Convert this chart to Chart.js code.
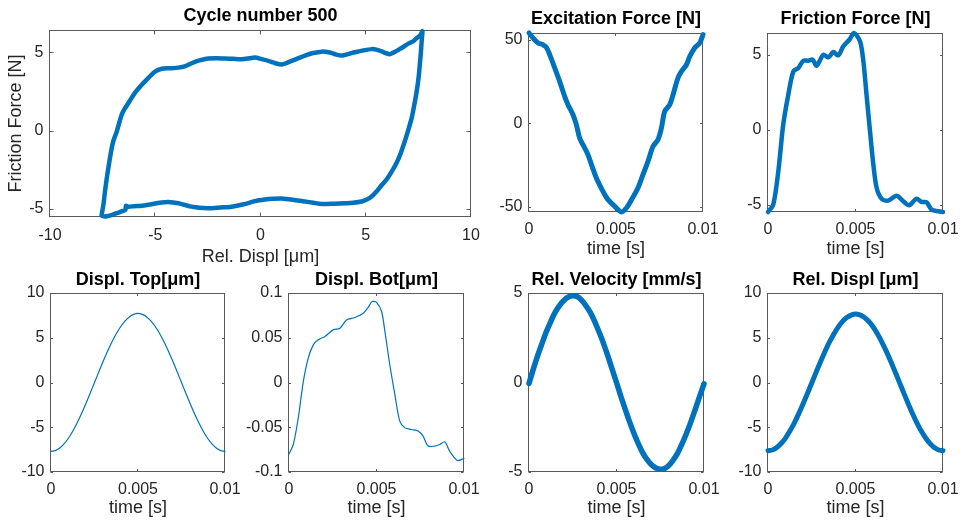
<!DOCTYPE html>
<html>
<head>
<meta charset="utf-8">
<script src="https://cdn.jsdelivr.net/npm/chart.js@4.4.0/dist/chart.umd.min.js"></script>
<style>
  html, body { margin: 0; padding: 0; background: #fff; overflow: hidden; width: 963px; height: 526px; }
  canvas { position: absolute; }
</style>
</head>
<body>
<canvas id="c1"></canvas>
<canvas id="c2"></canvas>
<canvas id="c3"></canvas>
<canvas id="c4"></canvas>
<canvas id="c5"></canvas>
<canvas id="c6"></canvas>
<canvas id="c7"></canvas>
<script>
// hysteresis loop, cycle 500 (rel. displ in um vs friction force in N)
const loopDispl = [-7.55, -7.45, -7.39, -7.31, -7.23, -7.12, -7.0, -6.83, -6.6, -6.45, -6.28, -6.0, -5.64, -5.3, -5.01,
  -4.69, -4.3, -3.9, -3.6, -3.27, -2.9, -2.48, -2.1, -1.69, -1.3, -0.89, -0.5, -0.26, 0.05, 0.37, 0.7, 1.01, 1.25,
  1.48, 1.8, 2.11, 2.5, 2.91, 3.3, 3.6, 3.86, 4.2, 4.49, 4.9, 5.28, 5.5, 5.76, 6.0, 6.15, 6.35, 6.55, 6.8, 7.02,
  7.25, 7.42, 7.6, 7.69,
  7.65, 7.62, 7.58, 7.52, 7.42, 7.3, 7.18, 6.95, 6.8, 6.63, 6.45, 6.23, 6.0, 5.76, 5.5, 5.28, 5.05, 4.81, 4.4, 4.01,
  3.5, 2.91, 2.5, 2.11, 1.6, 1.01, 0.6, 0.21, -0.26, -0.8, -1.37, -1.9, -2.48, -2.9, -3.27, -3.6, -3.9, -4.38,
  -4.7, -5.01, -5.3, -5.64, -6.0, -6.28, -6.39, -6.42, -6.6, -6.83, -7.05, -7.23, -7.4, -7.55];
const loopForce = [-5.42, -4.6, -3.9, -3.1, -2.4, -1.5, -0.7, -0.06, 1.0, 1.4, 1.75, 2.35, 2.92, 3.4, 3.77,
  3.95, 3.98, 4.02, 4.1, 4.3, 4.48, 4.6, 4.62, 4.6, 4.58, 4.56, 4.62, 4.66, 4.56, 4.45, 4.3, 4.22, 4.32,
  4.45, 4.62, 4.79, 4.95, 5.04, 4.98, 4.85, 4.79, 4.9, 5.0, 5.12, 5.2, 5.17, 5.05, 4.92, 4.88, 5.0, 5.15, 5.35, 5.55,
  5.7, 5.9, 6.1, 6.35,
  5.6, 5.0, 4.4, 3.5, 2.5, 1.6, 0.8, -0.27, -0.9, -1.55, -2.1, -2.62, -3.1, -3.47, -3.9, -4.2, -4.4, -4.52, -4.6, -4.63,
  -4.66, -4.68, -4.6, -4.52, -4.42, -4.33, -4.35, -4.4, -4.5, -4.7, -4.85, -4.9, -4.95, -4.92, -4.85, -4.74, -4.63, -4.55,
  -4.58, -4.65, -4.72, -4.79, -4.82, -4.85, -4.8, -5.06, -5.15, -5.27, -5.37, -5.44, -5.48, -5.42];

// excitation force [N]
const excTime = [0, 0.00023, 0.00052, 0.0008, 0.001, 0.00119, 0.00148, 0.00176, 0.00205, 0.00224, 0.00253, 0.00272,
  0.00291, 0.0031, 0.00339, 0.00359, 0.00387, 0.00425, 0.00454, 0.00493, 0.00531, 0.0056, 0.00589, 0.00626, 0.00655,
  0.00684, 0.00713, 0.00741, 0.00761, 0.0078, 0.00809, 0.00828, 0.00856, 0.00876, 0.00905, 0.00924, 0.00952, 0.00981, 0.01];
const excForce = [54.2, 51.2, 48.2, 47.2, 45.6, 41.2, 33.2, 25.2, 16.2, 11.2, 5.2, -0.8,
  -8.8, -12.8, -18.8, -24.8, -32.8, -40.8, -45.8, -49.8, -53.2, -50.8, -45.8, -38.8, -30.8,
  -22.8, -13.8, -9.8, -2.8, 7.2, 11.2, 17.2, 27.2, 31.2, 35.2, 40.2, 45.2, 48.2, 53.2];

// friction force [N]
const fricTime = [0, 0.0003, 0.00059, 0.00087, 0.00116, 0.00145, 0.00173, 0.00202, 0.0023, 0.00255, 0.00278, 0.00316,
  0.00345, 0.00373, 0.00402, 0.0043, 0.00465, 0.00491, 0.00526, 0.00545, 0.00563, 0.00583, 0.00602, 0.00621, 0.00649,
  0.00687, 0.00735, 0.00773, 0.00807, 0.00849, 0.00878, 0.00906, 0.00935, 0.00973, 0.01];
const fricForce = [-5.47, -4.98, -2.75, 0.36, 2.35, 3.91, 4.13, 4.62, 4.62, 4.69, 4.29, 5.02,
  4.85, 5.2, 4.98, 5.58, 6.02, 6.47, 5.91, 4.58, 2.35, -0.09, -2.31, -3.87, -4.58,
  -4.71, -4.38, -4.75, -5.02, -4.58, -4.8, -4.82, -5.31, -5.42, -5.47];

// regular time grid [s]
const gridTime = [0, 0.00025, 0.0005, 0.00075, 0.001, 0.00125, 0.0015, 0.00175, 0.002, 0.00225, 0.0025,
  0.00275, 0.003, 0.00325, 0.0035, 0.00375, 0.004, 0.00425, 0.0045, 0.00475, 0.005,
  0.00525, 0.0055, 0.00575, 0.006, 0.00625, 0.0065, 0.00675, 0.007, 0.00725, 0.0075,
  0.00775, 0.008, 0.00825, 0.0085, 0.00875, 0.009, 0.00925, 0.0095, 0.00975, 0.01];
const displTop = [-7.7, -7.61, -7.32, -6.86, -6.23, -5.44, -4.53, -3.5, -2.38, -1.2, 0.0,
  1.2, 2.38, 3.5, 4.53, 5.44, 6.23, 6.86, 7.32, 7.61, 7.72,
  7.61, 7.32, 6.86, 6.23, 5.44, 4.53, 3.5, 2.38, 1.2, 0.0,
  -1.2, -2.38, -3.5, -4.53, -5.44, -6.23, -6.86, -7.32, -7.61, -7.7];
const relVelocity = [-0.05, 0.76, 1.52, 2.2, 2.86, 3.42, 3.93, 4.31, 4.6, 4.78, 4.84,
  4.8, 4.6, 4.3, 3.92, 3.42, 2.83, 2.2, 1.5, 0.75, 0.0,
  -0.77, -1.5, -2.2, -2.85, -3.43, -3.93, -4.31, -4.6, -4.78, -4.85,
  -4.8, -4.62, -4.32, -3.93, -3.42, -2.84, -2.2, -1.5, -0.78, -0.08];
const relDispl = [-7.62, -7.54, -7.27, -6.82, -6.21, -5.43, -4.53, -3.51, -2.4, -1.24, -0.05,
  1.15, 2.33, 3.44, 4.47, 5.37, 6.16, 6.8, 7.25, 7.53, 7.66,
  7.55, 7.28, 6.84, 6.23, 5.45, 4.55, 3.53, 2.42, 1.26, 0.07,
  -1.13, -2.31, -3.44, -4.47, -5.39, -6.17, -6.81, -7.27, -7.54, -7.62];

// displacement of bottom specimen [um]
const botTime = [0, 0.00025, 0.00053, 0.00082, 0.0011, 0.00139, 0.00167, 0.00205, 0.00253, 0.00291, 0.00329,
  0.00376, 0.00424, 0.00452, 0.00475, 0.005, 0.00529, 0.00548, 0.00576, 0.00605, 0.00633, 0.00662, 0.007,
  0.00738, 0.00766, 0.00795, 0.00833, 0.00861, 0.0089, 0.00918, 0.00962, 0.01];
const displBot = [-0.08, -0.069, -0.0395, 0.0013, 0.0273, 0.042, 0.0477, 0.0514, 0.0588, 0.0607, 0.0699,
  0.0726, 0.0774, 0.0837, 0.0904, 0.0896, 0.0793, 0.057, 0.0198, -0.0136, -0.0432, -0.0507, -0.0525,
  -0.0543, -0.0599, -0.071, -0.071, -0.0693, -0.0663, -0.0766, -0.0871, -0.0849];

// tick values
const ticksTime = [0, 0.005, 0.01];
const ticksLoopX = [-10, -5, 0, 5, 10];
const ticksForce = [-5, 0, 5];
const ticksExc = [-50, 0, 50];
const ticksDispl = [-10, -5, 0, 5, 10];
const ticksBot = [-0.1, -0.05, 0, 0.05, 0.1];
const ticksVel = [-5, 0, 5];

const BLUE = '#0072BD';
Chart.defaults.font.family = '"Liberation Sans", Arial, sans-serif';
Chart.defaults.color = '#262626';

const pairs = (xs, ys) => xs.map((x, i) => ({ x: x, y: ys[i] }));

// matlab style box with inward ticks on all four sides
const matlabBox = {
  id: 'matlabBox',
  beforeDatasetsDraw(chart, args, opts) {
    const { ctx, chartArea: a, scales } = chart;
    const len = opts.len || 3;
    ctx.save();
    ctx.strokeStyle = '#5a5a5a';
    ctx.lineWidth = 1;
    const l = Math.round(a.left) - 0.5, r = Math.round(a.right) - 0.5;
    const t = Math.round(a.top) + 0.5, b = Math.round(a.bottom) - 0.5;
    ctx.strokeRect(l, t, r - l, b - t);
    ctx.beginPath();
    scales.x.ticks.forEach(tk => {
      const px = Math.round(scales.x.getPixelForValue(tk.value)) - 0.5;
      ctx.moveTo(px, b); ctx.lineTo(px, b - len);
      ctx.moveTo(px, t); ctx.lineTo(px, t + len);
    });
    scales.y.ticks.forEach(tk => {
      const py = Math.round(scales.y.getPixelForValue(tk.value)) + 0.5;
      ctx.moveTo(l, py); ctx.lineTo(l + len, py);
      ctx.moveTo(r, py); ctx.lineTo(r - len, py);
    });
    ctx.stroke();
    ctx.restore();
  }
};

function panel(cfg) {
  const [L, T, R, B] = cfg.box;
  const yw = cfg.yw, th = 30, xh = 54, rp = 30;
  const cv = document.getElementById(cfg.id);
  cv.width = yw + (R - L) + rp;
  cv.height = th + (B - T) + xh;
  cv.style.left = (L - yw) + 'px';
  cv.style.top = (T - th) + 'px';

  new Chart(cv, {
    type: 'scatter',
    data: {
      datasets: [{
        data: pairs(cfg.xs, cfg.ys),
        showLine: true,
        tension: cfg.tension,
        borderColor: BLUE,
        backgroundColor: BLUE,
        borderWidth: cfg.lw,
        pointRadius: 0,
        borderJoinStyle: 'round',
        borderCapStyle: 'round',
        clip: cfg.lw > 2 ? false : 2
      }]
    },
    options: {
      responsive: false,
      animation: false,
      layout: { padding: { left: 0, top: 0, right: rp, bottom: 0 } },
      plugins: {
        legend: { display: false },
        tooltip: { enabled: false },
        title: {
          display: true,
          text: cfg.title,
          fullSize: false,
          color: '#000',
          font: { size: 18, weight: 'bold', lineHeight: 1.2 },
          padding: cfg.titlePad
        },
        matlabBox: { len: cfg.tickLen }
      },
      scales: {
        x: {
          type: 'linear',
          min: cfg.xRange[0], max: cfg.xRange[1],
          afterBuildTicks: s => { s.ticks = cfg.xTicks.map(v => ({ value: v })); },
          afterFit: s => { s.height = xh; },
          grid: { display: false, drawTicks: false },
          border: { display: false },
          ticks: {
            padding: cfg.xTickPad, maxRotation: 0, autoSkip: false,
            font: { size: 16, lineHeight: 1.2 },
            callback: v => String(v)
          },
          title: {
            display: true, text: cfg.xLabel,
            font: { size: 18, lineHeight: 1.2 },
            padding: { top: 0, bottom: cfg.xLabelPad }
          }
        },
        y: {
          type: 'linear',
          min: cfg.yRange[0], max: cfg.yRange[1],
          afterBuildTicks: s => { s.ticks = cfg.yTicks.map(v => ({ value: v })); },
          afterFit: s => { s.width = yw; },
          grid: { display: false, drawTicks: false },
          border: { display: false },
          ticks: {
            padding: 6.5, autoSkip: false,
            font: { size: 16, lineHeight: 1.2 },
            callback: v => String(v)
          },
          title: {
            display: !!cfg.yLabel, text: cfg.yLabel || '',
            font: { size: 18, lineHeight: 1.2 },
            padding: { top: 5.2, bottom: 0 }
          }
        }
      }
    },
    plugins: [matlabBox]
  });
}

const topTitlePad = { top: 5.6, bottom: 2.8 };
const botTitlePad = { top: 6.6, bottom: 1.8 };

panel({ id: 'c1', box: [50, 30, 471, 217], yw: 50, title: 'Cycle number 500', titlePad: topTitlePad,
  xs: loopDispl, ys: loopForce, lw: 4.5, tickLen: 4, tension: 0.25,
  xRange: [-10, 10], xTicks: ticksLoopX, yRange: [-5.51, 6.42], yTicks: ticksForce,
  xLabel: 'Rel. Displ [μm]', xLabelPad: 2.7, xTickPad: 8.7, yLabel: 'Friction Force [N]' });

panel({ id: 'c2', box: [529, 33, 703, 212], yw: 60, title: 'Excitation Force [N]', titlePad: topTitlePad,
  xs: excTime, ys: excForce, lw: 5, tickLen: 2.5, tension: 0.3,
  xRange: [0, 0.01], xTicks: ticksTime, yRange: [-53.2, 54.2], yTicks: ticksExc,
  xLabel: 'time [s]', xLabelPad: 5.9, xTickPad: 8 });

panel({ id: 'c3', box: [768, 33, 943, 212], yw: 60, title: 'Friction Force [N]', titlePad: topTitlePad,
  xs: fricTime, ys: fricForce, lw: 4.5, tickLen: 2.5, tension: 0.3,
  xRange: [0, 0.01], xTicks: ticksTime, yRange: [-5.47, 6.47], yTicks: ticksForce,
  xLabel: 'time [s]', xLabelPad: 5.9, xTickPad: 8 });

panel({ id: 'c4', box: [51, 293, 225, 472], yw: 51, title: 'Displ. Top[μm]', titlePad: botTitlePad,
  xs: gridTime, ys: displTop, lw: 1.2, tickLen: 2.5, tension: 0.3,
  xRange: [0, 0.01], xTicks: ticksTime, yRange: [-10, 10], yTicks: ticksDispl,
  xLabel: 'time [s]', xLabelPad: 7.5, xTickPad: 8 });

panel({ id: 'c5', box: [289, 293, 464, 472], yw: 60, title: 'Displ. Bot[μm]', titlePad: botTitlePad,
  xs: botTime, ys: displBot, lw: 1.2, tickLen: 2.5, tension: 0.3,
  xRange: [0, 0.01], xTicks: ticksTime, yRange: [-0.1, 0.1], yTicks: ticksBot,
  xLabel: 'time [s]', xLabelPad: 7.5, xTickPad: 8 });

panel({ id: 'c6', box: [529, 293, 704, 472], yw: 60, title: 'Rel. Velocity [mm/s]', titlePad: botTitlePad,
  xs: gridTime, ys: relVelocity, lw: 5.5, tickLen: 2.5, tension: 0.3,
  xRange: [0, 0.01], xTicks: ticksTime, yRange: [-5, 5], yTicks: ticksVel,
  xLabel: 'time [s]', xLabelPad: 7.5, xTickPad: 8 });

panel({ id: 'c7', box: [768, 293, 943, 472], yw: 60, title: 'Rel. Displ [μm]', titlePad: botTitlePad,
  xs: gridTime, ys: relDispl, lw: 5, tickLen: 2.5, tension: 0.3,
  xRange: [0, 0.01], xTicks: ticksTime, yRange: [-10, 10], yTicks: ticksDispl,
  xLabel: 'time [s]', xLabelPad: 7.5, xTickPad: 8 });
</script>
</body>
</html>
